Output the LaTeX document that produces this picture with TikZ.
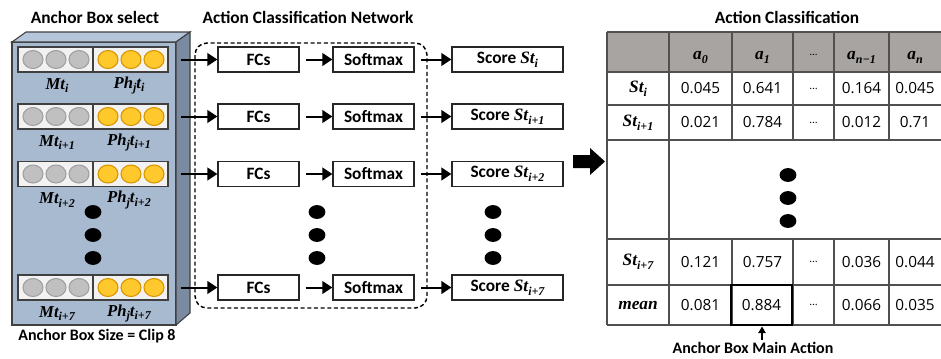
\documentclass[tikz,border=0pt]{standalone}
\usepackage{fontspec}
\setmainfont{Carlito}
\newfontfamily\numfont{Open Sans}
\newfontfamily\serifbi{Liberation Serif}
\newcommand\bi{\serifbi\bfseries\itshape}
\newcommand\bsub[1]{\raisebox{-0.5ex}{\fontsize{9}{10}\selectfont\bi #1}}
\usetikzlibrary{arrows.meta,shapes.geometric}
\definecolor{boxfront}{RGB}{168,186,208}
\definecolor{boxtop}{RGB}{182,198,218}
\definecolor{boxside}{RGB}{122,138,160}
\definecolor{stripfill}{RGB}{242,242,242}
\definecolor{grayball}{RGB}{192,192,192}
\definecolor{grayedge}{RGB}{160,160,160}
\definecolor{yelball}{RGB}{255,200,45}
\definecolor{yeledge}{RGB}{215,150,0}
\definecolor{headfill}{RGB}{168,164,161}
\definecolor{tabline}{RGB}{80,80,80}
\tikzset{
  arr/.style={line width=1.5pt,-{Triangle[length=7.5pt,width=9.5pt]}},
  smallarr/.style={line width=1.2pt,-{Triangle[length=5pt,width=5.5pt]}},
  pbox/.style={draw=black!85,line width=0.9pt,fill=white,inner sep=0pt,
    minimum height=18.75pt,font=\bfseries\fontsize{13}{15}\selectfont},
  fcbox/.style={pbox,minimum width=60.75pt},
  scbox/.style={pbox,minimum width=83.25pt},
  stripbox/.style={draw=black!75,line width=0.8pt,fill=stripfill,inner sep=0pt,
    minimum width=56.25pt,minimum height=18.75pt},
  gball/.style={shape=ellipse,draw=grayedge,line width=0.8pt,fill=grayball,inner sep=0pt,
    minimum width=15pt,minimum height=13.5pt},
  yball/.style={shape=ellipse,draw=yeledge,line width=0.8pt,fill=yelball,inner sep=0pt,
    minimum width=15pt,minimum height=13.5pt},
  rowlab/.style={font=\fontsize{12.5}{14}\selectfont,inner sep=0pt},
  ttl/.style={font=\bfseries\fontsize{13}{15}\selectfont},
  capt/.style={font=\bfseries\fontsize{12}{14}\selectfont,inner sep=0pt},
  cell/.style={font=\numfont\fontsize{11.5}{13}\selectfont,inner sep=0pt},
  hcell/.style={font=\fontsize{13}{15}\selectfont,inner sep=0pt},
  tl/.style={draw=tabline,line width=1.1pt},
  bigdot/.style={fill=black}
}
\newcommand\mkballs[2]{%
  \node[stripbox] (sl#1) at (55.5,#2) {};
  \node[stripbox] (sr#1) at (130.5,#2) {};
  \node[gball] (ga#1) at (33,#2) {};
  \node[gball] (gb#1) at (56,#2) {};
  \node[gball] (gc#1) at (79,#2) {};
  \node[yball] (ya#1) at (108,#2) {};
  \node[yball] (yb#1) at (131,#2) {};
  \node[yball] (yc#1) at (154,#2) {};
}
\newcommand\mklabels[3]{%
  \node[rowlab] (m#1) at (57,#2) {\bi Mt\bsub{#3}};
  \node[rowlab] (p#1) at (129,#2) {\bi Ph\bsub{j}t\bsub{#3}};
}
\newcommand\mkboxes[3]{%
  \coordinate (o#1) at (181,#2);
  \node[fcbox] (fc#1) at (258.5,#2) {FCs};
  \node[fcbox] (sm#1) at (373.5,#2) {Softmax};
  \node[scbox] (sc#1) at (507.5,#2) {Score {\bi St\bsub{#3}}};
}
\newcommand\mkarrows[1]{%
  \draw[arr] (o#1) -- (fc#1.west);
  \draw[arr,shorten <=4.5pt] (fc#1.east) -- (sm#1.west);
  \draw[arr,shorten <=5pt] (sm#1.east) -- (sc#1.west);
}
\begin{document}
\begin{tikzpicture}[x=0.75pt,y=-0.75pt]
\useasboundingbox (0,0) rectangle (941,358);

% titles
\node[ttl] (t1) at (95,17) {Anchor Box select};
\node[ttl] (t2) at (308,17) {Action Classification Network};
\node[ttl] (t3) at (787,17) {Action Classification};

% 3D box
\filldraw[fill=boxfront,draw=black!75,line width=0.8pt] (12,42) rectangle (176,325);
\filldraw[fill=boxtop,draw=black!75,line width=0.8pt] (12,42) -- (26,32) -- (190,32) -- (176,42) -- cycle;
\filldraw[fill=boxside,draw=black!75,line width=0.8pt] (176,42) -- (190,32) -- (190,313) -- (176,325) -- cycle;

% dashed network frame
\draw[line width=1.1pt,dash pattern=on 3pt off 2pt,rounded corners=9pt] (195,43) rectangle (427,308);

% rows
\mkballs{1}{59.5}
\mkballs{2}{116.5}
\mkballs{3}{174}
\mkballs{8}{287.5}
\mklabels{1}{85.5}{i}
\mklabels{2}{142.5}{i+1}
\mklabels{3}{200}{i+2}
\mklabels{8}{313.5}{i+7}
\mkboxes{1}{59.5}{i}
\mkboxes{2}{116.5}{i+1}
\mkboxes{3}{174}{i+2}
\mkboxes{8}{287.5}{i+7}
\mkarrows{1}
\mkarrows{2}
\mkarrows{3}
\mkarrows{8}

% vertical dots
\foreach \x in {93,317,493}{
  \foreach \yy in {212,235,258}{
    \fill[bigdot] (\x,\yy) ellipse [x radius=6.3pt,y radius=5.2pt];
  }
}
\foreach \yy in {175,198,221}{
  \fill[bigdot] (788,\yy) ellipse [x radius=6.3pt,y radius=5.2pt];
}

% big arrow
\fill (573,155) -- (590,155) -- (590,148) -- (605,161.5) -- (590,175) -- (590,168) -- (573,168) -- cycle;

% table
\fill[headfill] (607,32) rectangle (941,72);
\foreach \yy in {32,72,105,140,239,285,325}{
  \draw[tl] (607,\yy) -- (941,\yy);
}
\draw[tl] (607,32) -- (607,325);
\draw[tl] (669,32) -- (669,325);
\foreach \x in {732,793,834,889}{
  \draw[tl] (\x,32) -- (\x,140);
  \draw[tl] (\x,239) -- (\x,325);
}
% header
\node[hcell] (h1) at (700.5,57) {\bi a\bsub{0}};
\node[hcell] (h2) at (762.5,57) {\bi a\bsub{1}};
\node[hcell] (h3) at (813.5,55) {\fontsize{8}{10}\selectfont\textellipsis};
\node[hcell] (h4) at (861.5,57) {\bi a\bsub{n−1}};
\node[hcell] (h5) at (915,57) {\bi a\bsub{n}};
% data rows
\node[hcell] (rl1) at (638,88.5) {\bi St\bsub{i}};
\node[cell] (ra1) at (700.5,88.5) {0.045};
\node[cell] (rb1) at (762.5,88.5) {0.641};
\node[cell] (rc1) at (813.5,88.5) {\fontsize{8}{10}\selectfont\textellipsis};
\node[cell] (rd1) at (861.5,88.5) {0.164};
\node[cell] (re1) at (915,88.5) {0.045};
\node[hcell] (rl2) at (638,122.5) {\bi St\bsub{i+1}};
\node[cell] (ra2) at (700.5,122.5) {0.021};
\node[cell] (rb2) at (762.5,122.5) {0.784};
\node[cell] (rc2) at (813.5,122.5) {\fontsize{8}{10}\selectfont\textellipsis};
\node[cell] (rd2) at (861.5,122.5) {0.012};
\node[cell] (re2) at (915,122.5) {0.71};
\node[hcell] (rl7) at (638,262) {\bi St\bsub{i+7}};
\node[cell] (ra7) at (700.5,262) {0.121};
\node[cell] (rb7) at (762.5,262) {0.757};
\node[cell] (rc7) at (813.5,262) {\fontsize{8}{10}\selectfont\textellipsis};
\node[cell] (rd7) at (861.5,262) {0.036};
\node[cell] (re7) at (915,262) {0.044};
\node[hcell] (rlm) at (638,305) {\bi mean};
\node[cell] (ram) at (700.5,305) {0.081};
\node[cell,draw=black,line width=2.2pt,minimum width=45.75pt,minimum height=30pt] (main) at (761.5,305) {0.884};
\node[cell] (rcm) at (813.5,305) {\fontsize{8}{10}\selectfont\textellipsis};
\node[cell] (rdm) at (861.5,305) {0.066};
\node[cell] (rem) at (915,305) {0.035};

% caption bottom
\node[capt] (cap1) at (97,336) {Anchor Box Size = Clip 8};
\node[capt] (cap2) at (753,348) {Anchor Box Main Action};
\coordinate (ca) at (762,340);
\draw[smallarr] (ca) -- (main.south -| ca);
\end{tikzpicture}
\end{document}
